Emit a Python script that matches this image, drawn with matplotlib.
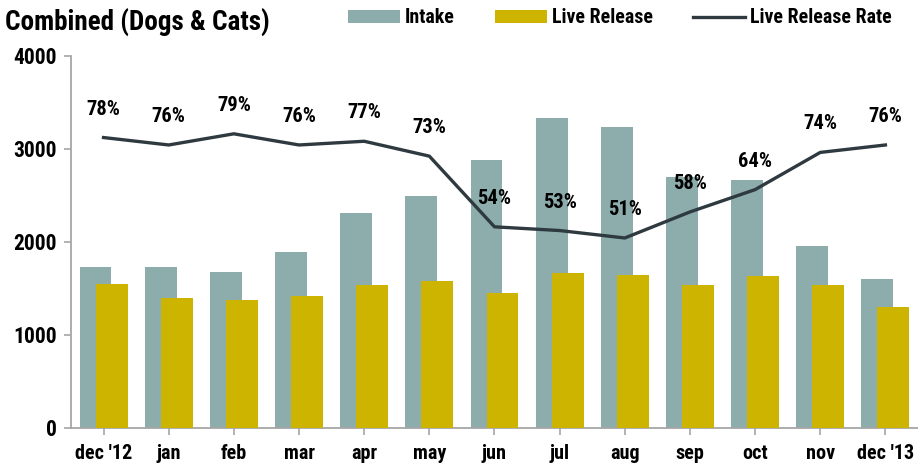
import matplotlib
matplotlib.use("Agg")
import matplotlib.pyplot as plt
from matplotlib import font_manager as fm
from matplotlib.font_manager import FontProperties
import numpy as np

categories = ["dec '12", "jan", "feb", "mar", "apr", "may", "jun", "jul", "aug", "sep", "oct", "nov", "dec '13"]
intake = [1731, 1731, 1671, 1889, 2306, 2491, 2878, 3327, 3237, 2696, 2660, 1954, 1602]
live_release = [1548, 1395, 1373, 1416, 1534, 1577, 1448, 1663, 1642, 1534, 1635, 1534, 1301]
release_rate = [78, 76, 79, 76, 77, 73, 54, 53, 51, 58, 64, 74, 76]
y_ticks = [0, 1000, 2000, 3000, 4000]

# find a condensed bold font if one exists
cand = None
for f in fm.fontManager.ttflist:
    fn = f.fname.lower()
    if ("narrow" in fn or "condensed" in fn) and ("bold" in fn) and ("oblique" not in fn) and ("italic" not in fn):
        cand = f.fname
        if "liberation" in fn:
            break

def fp(size):
    if cand:
        return FontProperties(fname=cand, size=size)
    return FontProperties(family="Liberation Sans", weight="bold", size=size)

scale = 1.0 if cand else 0.88

C_INTAKE = "#8DADAD"
C_REL = "#CDB400"
C_LINE = "#2E3A3F"
C_AX = "#A6A6A6"

fig = plt.figure(figsize=(9.18, 4.68), dpi=100)
ax = fig.add_axes([0.0773, 0.0861, 0.9227, 0.7949])
x = np.arange(len(categories))
w = 0.49
off = 0.123
b1 = ax.bar(x - off, intake, width=w, color=C_INTAKE, label="Intake", zorder=2)
b2 = ax.bar(x + off, live_release, width=w, color=C_REL, label="Live Release", zorder=3)
ax.set_xlim(-0.5, len(categories) - 0.5)
ax.set_ylim(0, 4000)
ax.set_yticks(y_ticks)
ax.set_yticklabels([str(t) for t in y_ticks], fontproperties=fp(15.5 * scale))
ax.set_xticks(x)
ax.set_xticklabels(categories, fontproperties=fp(14.5 * scale))
for s in ["top", "right"]:
    ax.spines[s].set_visible(False)
for s in ["left", "bottom"]:
    ax.spines[s].set_color(C_AX)
    ax.spines[s].set_linewidth(1.3)
ax.tick_params(axis='both', colors=C_AX, labelcolor='black', length=5, width=1.2)
ax.tick_params(axis='x', pad=7)
ax.tick_params(axis='y', pad=5)

ax2 = ax.twinx()
ax2.set_ylim(0, 100)
ax2.set_xlim(ax.get_xlim())
ln, = ax2.plot(x, release_rate, color=C_LINE, lw=2.4, label="Live Release Rate", zorder=4)
for xi, r in zip(x, release_rate):
    ax2.annotate(f"{r}%", (xi, r), xytext=(0, 20.5), textcoords="offset points",
                 ha="center", va="center", fontproperties=fp(14.8 * scale))
ax2.axis('off')

fig.text(0.005, 0.952, "Combined (Dogs & Cats)", fontproperties=fp(19.5 * scale), ha='left', va='center')
fig.legend(handles=[b1, b2, ln], labels=["Intake", "Live Release", "Live Release Rate"],
           loc='center left', bbox_to_anchor=(0.379, 0.962), ncol=3, frameon=False,
           prop=fp(14.3 * scale), handlelength=2.6, handleheight=0.62,
           columnspacing=2.05 if cand else 1.5, handletextpad=0.25, borderaxespad=0, borderpad=0)

fig.savefig("out.png", dpi=100)
